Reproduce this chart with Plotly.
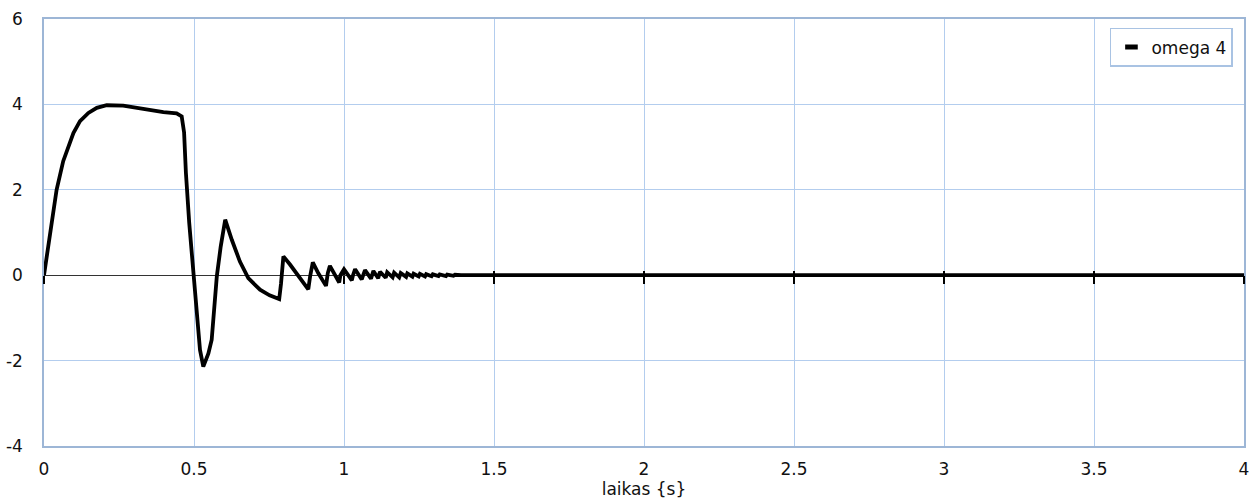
import plotly.graph_objects as go

# omega 4 angular velocity response over time
time_s = [0.0, 0.014, 0.026, 0.042, 0.064, 0.081, 0.098, 0.12, 0.148, 0.176,
          0.209, 0.264, 0.309, 0.353, 0.398, 0.442, 0.459, 0.467, 0.473, 0.484,
          0.496, 0.509, 0.52, 0.531, 0.548, 0.559, 0.576, 0.589, 0.604, 0.626,
          0.653, 0.681, 0.72, 0.752, 0.784, 0.79, 0.798, 0.82, 0.837, 0.859,
          0.881, 0.887, 0.896, 0.914, 0.94, 0.946, 0.953, 0.984, 0.988, 1.0,
          1.026, 1.03, 1.037, 1.059, 1.07, 1.09, 1.098, 1.114, 1.12, 1.139,
          1.144, 1.162, 1.167, 1.184, 1.189, 1.207, 1.211, 1.228, 1.232, 1.249,
          1.253, 1.27, 1.274, 1.292, 1.296, 1.315, 1.319, 1.34, 1.344, 1.365,
          1.37, 1.39, 4.0]
omega_4 = [0.0, 0.68, 1.30, 2.0, 2.67, 3.02, 3.33, 3.61, 3.80, 3.92,
           3.98, 3.97, 3.92, 3.86, 3.82, 3.79, 3.72, 3.34, 2.40, 1.23,
           0.2, -0.97, -1.75, -2.14, -1.83, -1.51, -0.03, 0.67, 1.30, 0.83,
           0.32, -0.07, -0.34, -0.47, -0.56, -0.2, 0.44, 0.25, 0.09, -0.15,
           -0.33, -0.03, 0.30, 0.05, -0.25, 0.05, 0.22, -0.17, 0.0, 0.14,
           -0.12, 0.0, 0.14, -0.10, 0.12, -0.08, 0.10, -0.07, 0.08, -0.06,
           0.07, -0.05, 0.06, -0.05, 0.05, -0.04, 0.04, -0.035, 0.035, -0.03,
           0.03, -0.03, 0.025, -0.025, 0.02, -0.02, 0.02, -0.02, 0.015, -0.015,
           0.01, 0.0, 0.0]

x_ticks = [0, 0.5, 1, 1.5, 2, 2.5, 3, 3.5, 4]
x_tick_text = ["0", "0.5", "1", "1.5", "2", "2.5", "3", "3.5", "4"]
y_ticks = [-4, -2, 0, 2, 4, 6]
y_tick_text = ["-4", "-2", "0", "2", "4", "6"]

GRID = "#B3CDEE"
FRAME = "#9DB6D6"
FONT = dict(family="DejaVu Sans", size=17, color="#111111")

fig = go.Figure()
fig.add_trace(go.Scatter(
    x=time_s, y=omega_4, mode="lines",
    line=dict(color="black", width=3.8),
    showlegend=False, hoverinfo="skip",
))
# legend entry with a short thick swatch (hosted on the tick-mark axis)
fig.add_trace(go.Scatter(
    x=[None], y=[None], mode="markers", name="omega 4",
    xaxis="x2",
    marker=dict(symbol="line-ew", size=9, color="black",
                line=dict(color="black", width=5)),
))
fig.add_trace(go.Scatter(
    x=[None], y=[None], mode="markers", xaxis="x3",
    showlegend=False, hoverinfo="skip",
))

cross_tick_axis = dict(
    matches="x", overlaying="x", anchor="free", position=0.4,
    showgrid=False, zeroline=False, showline=False,
    showticklabels=False, tickvals=x_ticks,
    tickcolor="black", tickwidth=1.5, automargin=False,
)

fig.update_layout(
    width=1254, height=504,
    margin=dict(l=44, r=10, t=19, b=58),
    paper_bgcolor="white", plot_bgcolor="white",
    font=FONT,
    xaxis=dict(
        range=[0, 4], tickvals=x_ticks, ticktext=x_tick_text,
        showgrid=True, gridcolor=GRID, gridwidth=1,
        showline=True, linecolor=FRAME, linewidth=1.5, mirror=True,
        zeroline=False, ticks="", ticklabelstandoff=7, automargin=False,
        title=dict(text="laikas {s}", font=FONT, standoff=4),
    ),
    yaxis=dict(
        range=[-4, 6], tickvals=y_ticks, ticktext=y_tick_text,
        showgrid=True, gridcolor=GRID, gridwidth=1,
        showline=True, linecolor=FRAME, linewidth=1.5, mirror=True,
        zeroline=True, zerolinecolor="#333333", zerolinewidth=1,
        ticks="", ticklabelstandoff=16, automargin=False,
    ),
    # cross tick marks along the horizontal axis line at y = 0
    xaxis2=dict(cross_tick_axis, ticks="outside", ticklen=8),
    xaxis3=dict(cross_tick_axis, ticks="inside", ticklen=4),
    legend=dict(
        x=0.9908, y=0.979, xanchor="right", yanchor="top",
        bgcolor="white", bordercolor="#A9C3E3", borderwidth=1.5,
        font=FONT, itemwidth=30,
    ),
)

fig.write_html("out.html")
